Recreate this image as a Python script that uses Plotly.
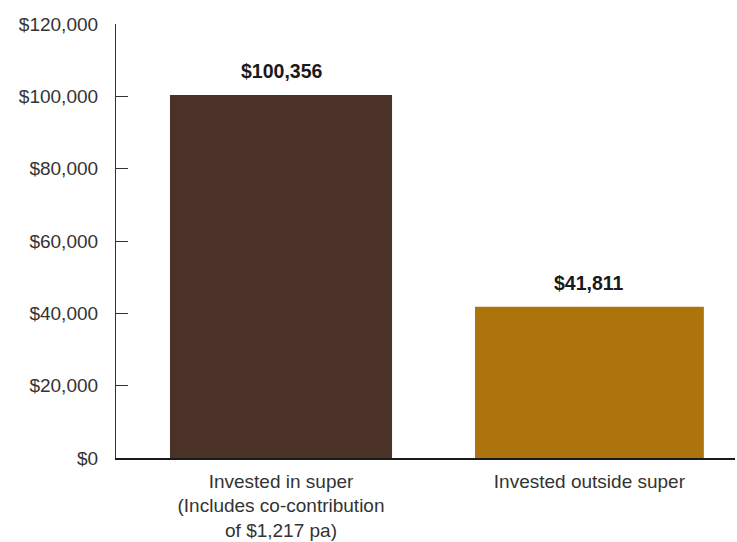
import plotly.graph_objects as go

# Data
categories = [
    "Invested in super<br>(Includes co-contribution<br>of $1,217 pa)",
    "Invested outside super",
]
values = [100356, 41811]
bar_colors = ["#4a3229", "#ad730c"]
y_ticks = [0, 20000, 40000, 60000, 80000, 100000, 120000]
y_tick_labels = ["$" + f"{v:,}" for v in y_ticks]

positions = list(range(len(categories)))
FONT = "Liberation Sans, Arial, sans-serif"

fig = go.Figure()
fig.add_trace(go.Bar(
    x=positions,
    y=values,
    width=[0.72, 0.742],
    marker=dict(color=bar_colors, line=dict(width=0)),
    hoverinfo="skip",
))

# Value labels above each bar
for xp, v in zip(positions, values):
    fig.add_annotation(
        x=xp, y=v, text="<b>$" + f"{v:,}" + "</b>",
        showarrow=False, yanchor="bottom", yshift=11,
        font=dict(family=FONT, size=19.5, color="#1a1a1a"),
    )

fig.update_layout(
    width=737, height=542,
    margin=dict(l=116, r=2, t=24, b=84),
    paper_bgcolor="white", plot_bgcolor="white",
    showlegend=False,
    font=dict(family=FONT, size=19, color="#333333"),
    xaxis=dict(
        range=[-0.535, 1.472],
        tickmode="array", tickvals=positions, ticktext=categories,
        showgrid=False, zeroline=False,
        showline=True, linecolor="#1a1a1a", linewidth=1.5,
        ticks="", ticklabelstandoff=5,
    ),
    yaxis=dict(
        range=[0, 120000],
        tickmode="array", tickvals=y_ticks, ticktext=y_tick_labels,
        showgrid=False, zeroline=False,
        showline=True, linecolor="#333333", linewidth=1.2,
        ticks="inside", ticklen=12, tickcolor="#333333", tickwidth=1.2,
        ticklabelstandoff=13,
    ),
)

fig.write_html("out.html")
